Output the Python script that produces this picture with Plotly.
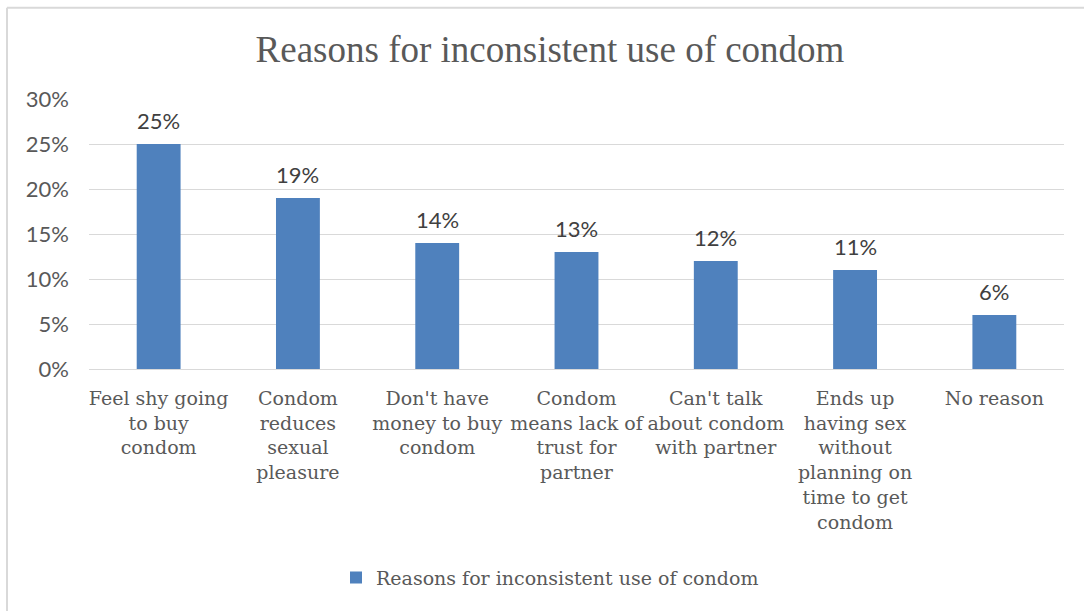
import plotly.graph_objects as go

title = "Reasons for inconsistent use of condom"
series_name = "Reasons for inconsistent use of condom"
categories = [
    "Feel shy going<br>to buy<br>condom",
    "Condom<br>reduces<br>sexual<br>pleasure",
    "Don't have<br>money to buy<br>condom",
    "Condom<br>means lack of<br>trust for<br>partner",
    "Can't talk<br>about condom<br>with partner",
    "Ends up<br>having sex<br>without<br>planning on<br>time to get<br>condom",
    "No reason",
]
values = [0.25, 0.19, 0.14, 0.13, 0.12, 0.11, 0.06]
y_ticks = [0, 0.05, 0.10, 0.15, 0.20, 0.25, 0.30]
y_tick_labels = ["0%", "5%", "10%", "15%", "20%", "25%", "30%"]

bar_color = "#4f81bd"
serif = "DejaVu Serif"
sans = "Lato, Liberation Sans, sans-serif"

W, H = 1084, 611
ML, MR, MT, MB = 89, 20, 98.5, 241.5
PW, PH = W - ML - MR, H - MT - MB


def px_x(x):
    return (x - ML) / PW


def px_y(y):
    return (H - MB - y) / PH


fig = go.Figure()
fig.add_trace(go.Bar(
    x=categories, y=values, name=series_name,
    marker=dict(color=bar_color, line=dict(width=0)),
    showlegend=True,
))

annotations = [
    dict(x=c, y=v, text=f"{round(v*100)}%", showarrow=False,
         xref="x", yref="y", yanchor="bottom", yshift=8,
         font=dict(family=sans, size=22, color="#404040"))
    for c, v in zip(categories, values)
]

fig.update_layout(
    width=W, height=H,
    paper_bgcolor="white", plot_bgcolor="white",
    margin=dict(l=ML, r=MR, t=MT, b=MB, autoexpand=False),
    bargap=0.685,
    title=dict(text=title, x=550 / W, xanchor="center", y=1 - 49 / H, yanchor="middle",
               font=dict(family="Liberation Serif", size=37, color="#595959")),
    xaxis=dict(
        automargin=False,
        showgrid=False, showline=False, zeroline=False,
        tickfont=dict(family=serif, size=19, color="#595959"),
        tickangle=0, ticks="", ticklabelstandoff=16,
    ),
    yaxis=dict(
        automargin=False,
        range=[0, 0.30], tickvals=y_ticks, ticktext=y_tick_labels,
        showgrid=True, gridcolor="#d9d9d9", gridwidth=1,
        zeroline=True, zerolinecolor="#d9d9d9", zerolinewidth=1,
        showline=False, ticks="", ticklabelstandoff=19,
        tickfont=dict(family=sans, size=22, color="#595959"),
    ),
    legend=dict(
        orientation="h", x=px_x(550), xanchor="center", y=px_y(579), yanchor="middle",
        font=dict(family=serif, size=19, color="#595959"),
        bgcolor="rgba(0,0,0,0)",
    ),
    annotations=annotations,
    shapes=[
        dict(type="line", xref="paper", yref="paper", x0=px_x(7), x1=px_x(1090),
             y0=px_y(7), y1=px_y(7), line=dict(color="#d9d9d9", width=2)),
        dict(type="line", xref="paper", yref="paper", x0=px_x(7), x1=px_x(7),
             y0=px_y(7), y1=px_y(620), line=dict(color="#d9d9d9", width=2)),
    ],
)

fig.write_html("out.html", config={"displayModeBar": False},
               post_script="document.body.style.margin='0';")
